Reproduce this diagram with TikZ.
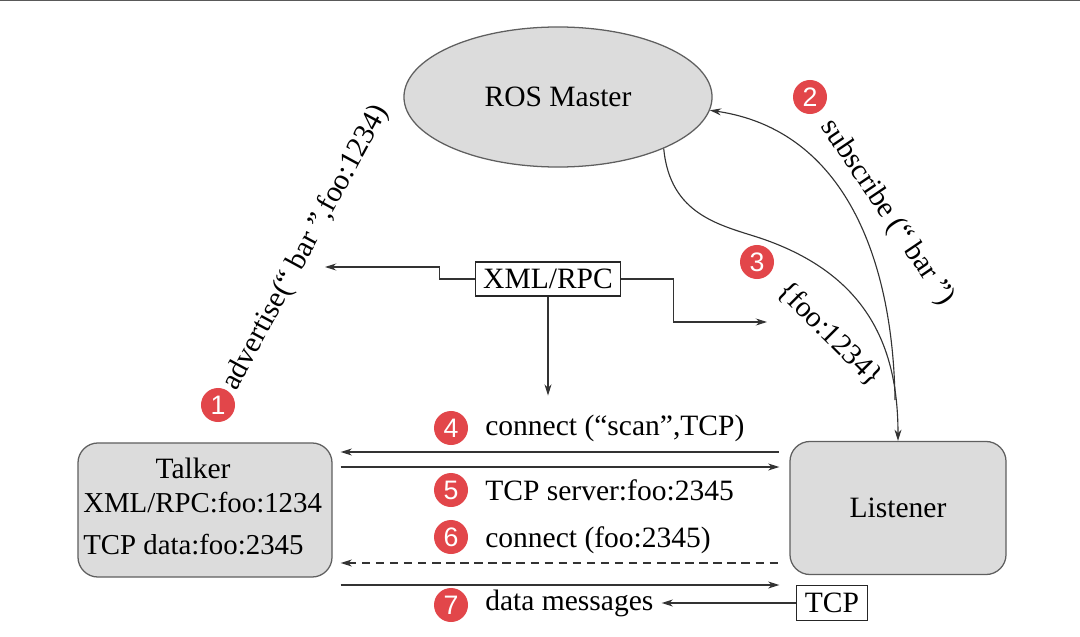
\documentclass[tikz,border=0pt]{standalone}
\usepackage{fontspec}
\setmainfont{Liberation Serif}
\newfontfamily\badgefont{Liberation Sans}
\usetikzlibrary{shapes.geometric,arrows.meta}
\definecolor{boxgray}{RGB}{220,220,220}
\definecolor{edgegray}{RGB}{95,95,95}
\definecolor{badgered}{RGB}{226,70,74}
\tikzset{
  box/.style={draw=edgegray,fill=boxgray,line width=0.9pt},
  tag/.style={draw=black!85,fill=white,line width=0.8pt,inner sep=0pt},
  badge/.style={circle,fill=badgered,text=white,minimum size=0.85cm,inner sep=0pt,
    font=\badgefont\fontsize{19}{19}\selectfont},
  flow/.style={draw=black!80,line width=0.8pt}
}
\begin{document}
\begin{tikzpicture}[>={Stealth[length=8pt,width=5pt]},x=0.025cm,y=-0.025cm,
  font=\fontsize{21}{25}\selectfont]
		\useasboundingbox (0,0) rectangle (1080,637);
		\draw[black!65,line width=1.2pt] (0,0.6) -- (1080,0.6);
		%Nodos
		\node[box,ellipse,minimum width=7.7cm,minimum height=3.5cm,inner sep=0pt]
		(master) at (558,97) {ROS Master};
		\node[box,rounded corners=0.5cm,minimum width=6.35cm,minimum height=3.35cm]
		(talker) at (205,510) {};
		\node (talkername) at (193,468) {Talker};
		\node[anchor=west,inner sep=0pt,font=\fontsize{20.5}{24}\selectfont]
		(talkerrpc) at (83,503) {XML/RPC:foo:1234};
		\node[anchor=west,inner sep=0pt,font=\fontsize{20.5}{24}\selectfont]
		(talkertcp) at (83,545) {TCP data:foo:2345};
		\node[box,rounded corners=0.5cm,minimum width=5.4cm,minimum height=3.325cm]
		(listener) at (898,508) {Listener};
		\node[tag,minimum width=3.625cm,minimum height=0.85cm] (xmlrpc) at (548,279) {XML/RPC};
		\node[tag,minimum width=1.775cm,minimum height=0.875cm] (tcp) at (832,603) {TCP};
		%Etiquetas
		\node[rotate=61.5] (adv) at (306,248) {advertise(“ bar ”,foo:1234)};
		\node[rotate=-56] (sub) at (887,213) {subscribe (“ bar ”)};
		\node[rotate=-45] (foo) at (830,334) {\{foo:1234\}};
		\node[anchor=west,inner sep=0pt] (m4) at (485,428) {connect (“scan”,TCP)};
		\node[anchor=west,inner sep=0pt] (m5) at (485,490) {TCP server:foo:2345};
		\node[anchor=west,inner sep=0pt] (m6) at (485,540) {connect (foo:2345)};
		\node[anchor=west,inner sep=0pt] (m7) at (485,603) {data messages};
		\node[badge] (b1) at (218,405) {1};
		\node[badge] (b2) at (810,97) {2};
		\node[badge] (b3) at (757,262) {3};
		\node[badge] (b4) at (451,428) {4};
		\node[badge] (b5) at (451,490) {5};
		\node[badge] (b6) at (451,537) {6};
		\node[badge] (b7) at (451,605) {7};
		%Flechas XML/RPC
		\coordinate (advtip) at (325,267);
		\coordinate (footip) at (767,322);
		\draw[flow,->] (xmlrpc.west) -- ++(-35,0) |- (advtip);
		\draw[flow,->] (xmlrpc.east) -- ++(52,0) |- (footip);
		\draw[flow,->] (xmlrpc.south) -- ++(0,99);
		%Curvas
		\coordinate (subfrom) at (895,400);
		\draw[flow,->] (subfrom) .. controls (893,260) and (845,130) .. (master.-5);
		\draw[flow,->] (master.-26) .. controls (670,215) and (720,225) .. (760,238)
		.. controls (870,275) and (898,350) .. (listener.north);
		%Mensajes
		\draw[flow,<-] ([xshift=2mm]talker.east |- 0,452) -- ([xshift=-2.5mm]listener.west |- 0,452);
		\draw[flow,->] ([xshift=2mm]talker.east |- 0,467) -- ([xshift=-2.5mm]listener.west |- 0,467);
		\draw[flow,<-,dashed,dash pattern=on 6pt off 4pt] ([xshift=2mm]talker.east |- 0,563)
		-- ([xshift=-2.5mm]listener.west |- 0,563);
		\draw[flow,->] ([xshift=2mm]talker.east |- 0,585) -- ([xshift=-2.5mm]listener.west |- 0,585);
		\draw[flow,->] (tcp.west) -- ([xshift=2mm]m7.east);
\end{tikzpicture}
\end{document}
